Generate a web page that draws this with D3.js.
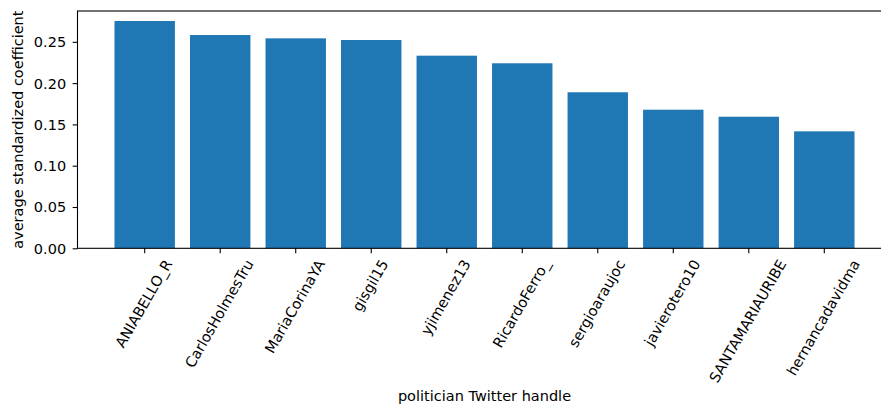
<!DOCTYPE html>
<html>
<head>
<meta charset="utf-8">
<script src="https://cdn.jsdelivr.net/npm/d3@7"></script>
<style>
  html, body { margin: 0; padding: 0; background: #fff; }
  svg { display: block; }
  text { font-family: "DejaVu Sans", sans-serif; }
</style>
</head>
<body>
<svg id="chart" width="881" height="406"></svg>
<script>
const categories = ["ANIABELLO_R", "CarlosHolmesTru", "MariaCorinaYA", "gisgil15", "yjimenez13",
                    "RicardoFerro_", "sergioaraujoc", "javierotero10", "SANTAMARIAURIBE", "hernancadavidma"];
const values = [0.2752, 0.2582, 0.2542, 0.2522, 0.2332, 0.2240, 0.1889, 0.1678, 0.1593, 0.1416];
const yTicks = [0.00, 0.05, 0.10, 0.15, 0.20, 0.25];
const yLimit = 0.2873;
const xTitle = "politician Twitter handle";
const yTitle = "average standardized coefficient";

const plotLeft = 77.5, plotRight = 891.5, plotTop = 11, plotBottom = 248.3;
const fs = 14.5;
const tickLen = 4.86, pad = 4.86, yPad = 6.5;

const svg = d3.select("#chart");

const x = d3.scaleBand().domain(categories).range([plotLeft, plotRight]).paddingInner(0.2).paddingOuter(0.49);
const y = d3.scaleLinear().domain([0, yLimit]).range([plotBottom, plotTop]);

// bars
svg.append("g").selectAll("rect").data(values).join("rect")
  .attr("x", (d, i) => x(categories[i]))
  .attr("width", x.bandwidth())
  .attr("y", d => y(d))
  .attr("height", d => y(0) - y(d))
  .attr("fill", "#1f77b4");

// spines
svg.append("rect")
  .attr("x", plotLeft).attr("y", plotTop)
  .attr("width", plotRight - plotLeft).attr("height", plotBottom - plotTop)
  .attr("fill", "none").attr("stroke", "#000").attr("stroke-width", 1.1);

// y axis
const yAxis = d3.axisLeft(y).tickValues(yTicks).tickFormat(d3.format(".2f"))
  .tickSizeInner(tickLen).tickSizeOuter(0).tickPadding(yPad);
const gy = svg.append("g").attr("transform", `translate(${plotLeft},0)`).call(yAxis);
gy.select(".domain").remove();
gy.selectAll("line").attr("stroke", "#000").attr("stroke-width", 1.1);
gy.selectAll("text").attr("font-size", fs).attr("font-family", "DejaVu Sans").attr("fill", "#000").attr("dy", "0.34em");

// x axis
const xAxis = d3.axisBottom(x).tickSizeInner(tickLen).tickSizeOuter(0).tickPadding(pad);
const gx = svg.append("g").attr("transform", `translate(0,${plotBottom})`).call(xAxis);
gx.select(".domain").remove();
gx.selectAll("line").attr("stroke", "#000").attr("stroke-width", 1.1);
const ang = 60 * Math.PI / 180;
gx.selectAll("text")
  .attr("font-size", fs).attr("font-family", "DejaVu Sans").attr("fill", "#000")
  .attr("text-anchor", "middle")
  .each(function() {
    const t = d3.select(this);
    const w = this.getComputedTextLength();
    const h = 0.983 * fs;
    const bh = w * Math.sin(ang) + h * Math.cos(ang);
    const cy = tickLen + pad + bh / 2;
    t.attr("y", 0).attr("dy", "0.27em")
     .attr("transform", `translate(0,${cy}) rotate(-60)`);
  });

// titles
svg.append("text")
  .attr("x", (plotLeft + plotRight) / 2).attr("y", 401)
  .attr("text-anchor", "middle").attr("font-size", fs).attr("fill", "#000")
  .text(xTitle);

svg.append("text")
  .attr("transform", `translate(23,${(plotTop + plotBottom) / 2}) rotate(-90)`)
  .attr("text-anchor", "middle").attr("font-size", fs).attr("fill", "#000")
  .text(yTitle);
</script>
</body>
</html>
